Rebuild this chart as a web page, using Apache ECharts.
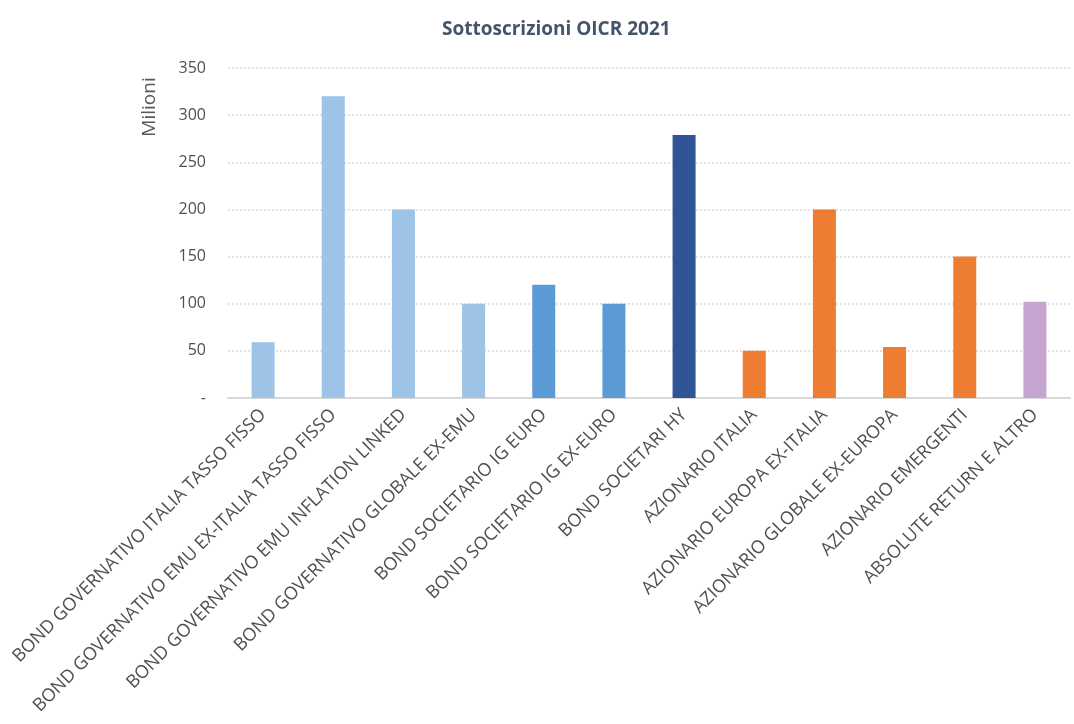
<!DOCTYPE html>
<html>
<head>
<meta charset="utf-8">
<script src="https://cdn.jsdelivr.net/npm/echarts@6/dist/echarts.min.js"></script>
<style>
  html, body { margin: 0; padding: 0; background: #fff; }
  #main { width: 1074px; height: 724px; }
</style>
</head>
<body>
<div id="main"></div>
<script>
// categorie (asse x)
var categorie = [
  'BOND GOVERNATIVO ITALIA TASSO FISSO',
  'BOND GOVERNATIVO EMU EX-ITALIA TASSO FISSO',
  'BOND GOVERNATIVO EMU INFLATION LINKED',
  'BOND GOVERNATIVO GLOBALE EX-EMU',
  'BOND SOCIETARIO IG EURO',
  'BOND SOCIETARIO IG EX-EURO',
  'BOND SOCIETARI HY',
  'AZIONARIO ITALIA',
  'AZIONARIO EUROPA EX-ITALIA',
  'AZIONARIO GLOBALE EX-EUROPA',
  'AZIONARIO EMERGENTI',
  'ABSOLUTE RETURN E ALTRO'
];
// sottoscrizioni in milioni
var sottoscrizioni = [59, 320, 200, 100, 120, 100, 279, 50, 200, 54, 150, 102];
// tick asse y
var yTicks = [0, 50, 100, 150, 200, 250, 300, 350];

// colori per barra
var coloriBarre = ['#9DC3E6', '#9DC3E6', '#9DC3E6', '#9DC3E6', '#5B9BD5', '#5B9BD5',
  '#2F5597', '#ED7D31', '#ED7D31', '#ED7D31', '#ED7D31', '#C5A5CF'];

var font = '"Open Sans", "Liberation Sans", sans-serif';

var chart = echarts.init(document.getElementById('main'));

var option = {
  animation: false,
  title: {
    text: 'Sottoscrizioni OICR 2021',
    left: 437,
    top: 15,
    textStyle: { fontFamily: font, fontSize: 19, fontWeight: 'bold', color: '#44546A' }
  },
  grid: { left: 228, right: 4, top: 68, bottom: 326, containLabel: false },
  graphic: [{
    type: 'text',
    x: 150, y: 107,
    rotation: Math.PI / 2,
    style: {
      text: 'Milioni',
      align: 'center', verticalAlign: 'middle',
      font: '19px ' + font,
      fill: '#595959'
    }
  }],
  xAxis: {
    type: 'category',
    data: categorie,
    axisLine: { lineStyle: { color: '#D9D9D9', width: 2 } },
    axisTick: { show: false },
    axisLabel: {
      interval: 0,
      rotate: 45,
      margin: 14,
      fontFamily: font,
      fontSize: 18,
      color: '#505050'
    }
  },
  yAxis: {
    type: 'value',
    min: yTicks[0],
    max: yTicks[yTicks.length - 1],
    interval: 50,
    axisLine: { show: false },
    axisTick: { show: false },
    splitLine: { lineStyle: { color: '#D9D9D9', type: [2, 2], width: 1.5 } },
    axisLabel: {
      margin: 22,
      fontFamily: font,
      fontSize: 16,
      color: '#505050',
      formatter: function (v) { return v === 0 ? '-' : v; }
    }
  },
  series: [{
    type: 'bar',
    barWidth: 23,
    data: sottoscrizioni.map(function (v, i) {
      return { value: v, itemStyle: { color: coloriBarre[i] } };
    })
  }]
};

chart.setOption(option);
</script>
</body>
</html>
